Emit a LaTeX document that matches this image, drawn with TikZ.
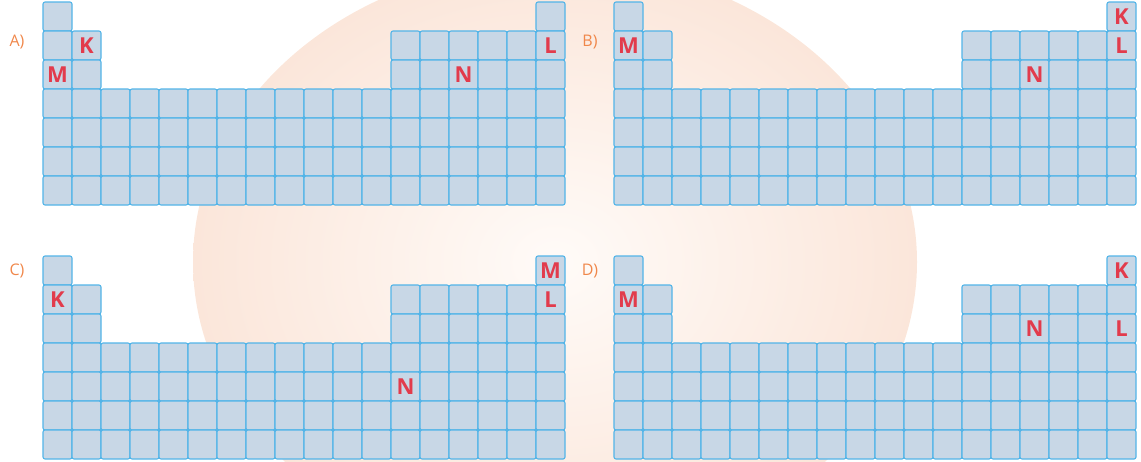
\documentclass[tikz,border=0pt]{standalone}
\usepackage{fontspec}
\setmainfont{Open Sans}
\definecolor{cellfill}{HTML}{C8D7E6}
\definecolor{celledge}{HTML}{52B4E8}
\definecolor{lettred}{HTML}{E23B4C}
\definecolor{labor}{HTML}{F0874A}
\definecolor{peachin}{HTML}{FFFBF8}
\definecolor{peachout}{HTML}{FBE6DA}
\tikzset{
  cell/.style={draw=celledge,fill=cellfill,line width=1.1pt,rounded corners=2pt,
    minimum size=29pt,inner sep=0pt},
  elem/.style={text=lettred,font=\fontsize{22}{22}\selectfont\bfseries,inner sep=0pt},
  optlab/.style={text=labor,font=\fontsize{16}{16}\selectfont,inner sep=0pt}
}
% one outline of the table, cells named <name>-<row>-<col>
\newcommand{\drawtable}[3]{%
  \foreach \c in {1,18}
    \node[cell] (#1-1-\c) at ({#2+29*\c-14.5},{#3+14.5}) {};
  \foreach \r in {2,3}
    \foreach \c in {1,2,13,14,15,16,17,18}
      \node[cell] (#1-\r-\c) at ({#2+29*\c-14.5},{#3+29*\r-14.5}) {};
  \foreach \r in {4,...,7}
    \foreach \c in {1,...,18}
      \node[cell] (#1-\r-\c) at ({#2+29*\c-14.5},{#3+29*\r-14.5}) {};
}
\begin{document}
\begin{tikzpicture}[x=1pt,y=-1pt]
  \useasboundingbox (0,0) rectangle (1141,461);
  % faint background sphere
  \shade[inner color=peachin,outer color=peachout] (555,262) ellipse (362 and 300);

  \drawtable{A}{43}{2}
  \drawtable{B}{614}{2}
  \drawtable{C}{43}{256}
  \drawtable{D}{614}{256}

  \node[optlab] (labA) at (17,42) {A)};
  \node[optlab] (labB) at (590,42) {B)};
  \node[optlab] (labC) at (17,271) {C)};
  \node[optlab] (labD) at (590,271) {D)};

  % A
  \node[elem] (aM) at (A-3-1) {M};
  \node[elem] (aK) at (A-2-2) {K};
  \node[elem] (aL) at (A-2-18) {L};
  \node[elem] (aN) at (A-3-15) {N};
  % B
  \node[elem] (bK) at (B-1-18) {K};
  \node[elem] (bL) at (B-2-18) {L};
  \node[elem] (bM) at (B-2-1) {M};
  \node[elem] (bN) at (B-3-15) {N};
  % C
  \node[elem] (cK) at (C-2-1) {K};
  \node[elem] (cM) at (C-1-18) {M};
  \node[elem] (cL) at (C-2-18) {L};
  \node[elem] (cN) at (C-5-13) {N};
  % D
  \node[elem] (dK) at (D-1-18) {K};
  \node[elem] (dM) at (D-2-1) {M};
  \node[elem] (dN) at (D-3-15) {N};
  \node[elem] (dL) at (D-3-18) {L};
\end{tikzpicture}
\end{document}
